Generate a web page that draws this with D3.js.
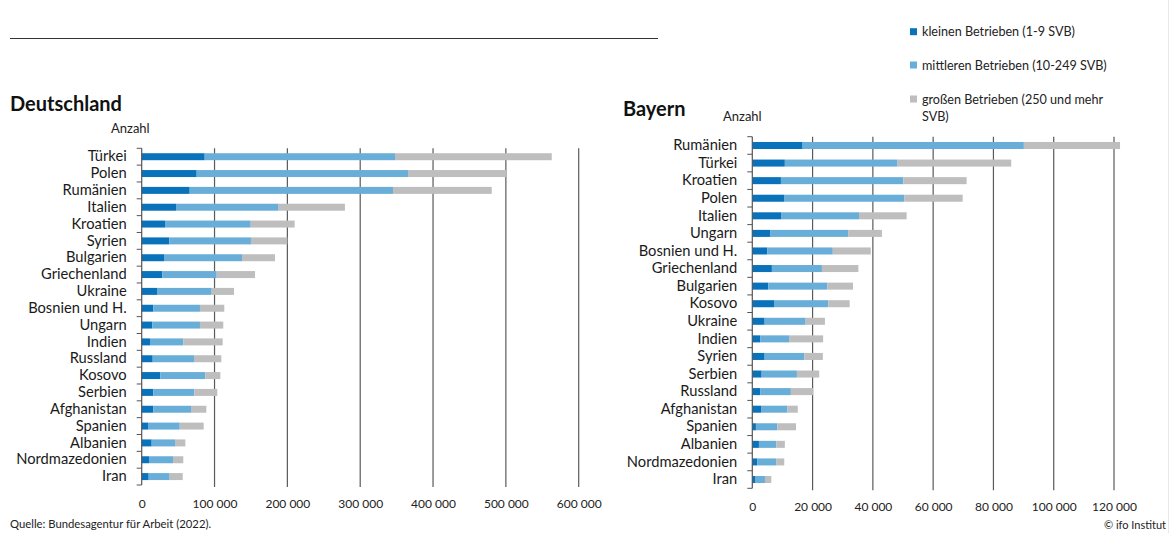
<!DOCTYPE html>
<html lang="de">
<head>
    <meta charset="UTF-8">
    <title>Beschäftigte nach Betriebsgröße</title>
    <script src="https://d3js.org/d3.v7.min.js"></script>
    <style>
        body { margin: 0; background-color: white; font-family: Lato, "Noto Sans", sans-serif; }
        svg { display: block; }
    </style>
</head>
<body>
    <svg id="chart"></svg>

    <script>
        const width = 1171;
        const height = 533;

        // Deutschland (segment values: small, medium, large firms)
        const deCountries = ["Türkei", "Polen", "Rumänien", "Italien", "Kroatien", "Syrien", "Bulgarien",
            "Griechenland", "Ukraine", "Bosnien und H.", "Ungarn", "Indien", "Russland", "Kosovo",
            "Serbien", "Afghanistan", "Spanien", "Albanien", "Nordmazedonien", "Iran"];
        const deSmall  = [86500, 75500, 65900, 47100, 32000, 37900, 30600, 28300, 21000, 16000,
            14600, 11400, 15100, 25500, 16000, 16000, 8700, 13700, 10000, 9600];
        const deMedium = [261300, 290100, 279100, 140900, 117700, 112100, 107100, 74700, 75100, 64000,
            65400, 45700, 56700, 61800, 56200, 51700, 43500, 32000, 33000, 28800];
        const deLarge  = [215200, 135000, 135600, 91000, 60300, 50000, 45300, 52600, 30600, 33400,
            32000, 54100, 37500, 20700, 31600, 21000, 32900, 14200, 14100, 17900];
        const deTicks = [0, 100000, 200000, 300000, 400000, 500000, 600000];

        // Bayern
        const byCountries = ["Rumänien", "Türkei", "Kroatien", "Polen", "Italien", "Ungarn", "Bosnien und H.",
            "Griechenland", "Bulgarien", "Kosovo", "Ukraine", "Indien", "Syrien", "Serbien", "Russland",
            "Afghanistan", "Spanien", "Albanien", "Nordmazedonien", "Iran"];
        const bySmall  = [16700, 10800, 9500, 10700, 9700, 5900, 5000, 6500, 5300, 7200,
            4100, 2600, 4100, 3100, 2600, 2900, 1200, 2200, 1600, 900];
        const byMedium = [73400, 37400, 40600, 39700, 25700, 25900, 21700, 16600, 19600, 18000,
            13600, 9600, 13200, 11700, 10200, 8700, 7100, 5800, 6300, 3300];
        const byLarge  = [31900, 37700, 21000, 19400, 15800, 11200, 12600, 12100, 8500, 7100,
            6400, 11300, 6100, 7400, 7400, 3500, 6200, 2800, 2700, 2100];
        const byTicks = [0, 20000, 40000, 60000, 80000, 100000, 120000];

        const seriesKeys = ["small", "medium", "large"];
        const seriesLabels = ["kleinen Betrieben (1-9 SVB)", "mittleren Betrieben (10-249 SVB)",
            "großen Betrieben (250 und mehr", "SVB)"];
        const colors = { small: "#0a72ba", medium: "#68aed9", large: "#bebebe" };

        const locale = d3.formatLocale({ decimal: ",", thousands: " ", grouping: [3], currency: ["", " €"] });
        const fmt = locale.format(",");

        const svg = d3.select("#chart")
            .attr("width", width)
            .attr("height", height);

        function drawPanel(opt) {
            const rows = opt.countries.map((c, i) => ({
                country: c, small: opt.small[i], medium: opt.medium[i], large: opt.large[i]
            }));

            const x = d3.scaleLinear().domain([0, opt.max]).range([opt.left, opt.right]);
            const y = d3.scaleBand().domain(opt.countries)
                .range([opt.top, opt.bottom])
                .paddingInner(opt.pad).paddingOuter(opt.pad / 2);

            const g = svg.append("g");

            // gridlines
            g.append("g").selectAll("line")
                .data(opt.ticks.filter(t => t > 0))
                .join("line")
                .attr("x1", d => x(d)).attr("x2", d => x(d))
                .attr("y1", opt.top).attr("y2", opt.bottom + 2)
                .attr("stroke", "#5a5a5a").attr("stroke-width", 1.2);

            // stacked bars
            const stack = d3.stack().keys(seriesKeys)(rows);
            g.append("g").selectAll("g")
                .data(stack)
                .join("g")
                .attr("fill", d => colors[d.key])
                .selectAll("rect")
                .data(d => d)
                .join("rect")
                .attr("x", d => x(d[0]))
                .attr("width", d => x(d[1]) - x(d[0]))
                .attr("y", d => y(d.data.country))
                .attr("height", y.bandwidth());

            // y axis line and category boundary ticks
            const step = y.step();
            g.append("line")
                .attr("x1", opt.left).attr("x2", opt.left)
                .attr("y1", opt.top).attr("y2", opt.bottom)
                .attr("stroke", "#555").attr("stroke-width", 1.2);
            g.append("g").selectAll("line")
                .data(d3.range(opt.countries.length + 1))
                .join("line")
                .attr("x1", opt.left - 5).attr("x2", opt.left)
                .attr("y1", i => opt.top + i * step).attr("y2", i => opt.top + i * step)
                .attr("stroke", "#555").attr("stroke-width", 1);

            // category labels
            const yAxis = g.append("g")
                .attr("transform", `translate(${opt.left},0)`)
                .call(d3.axisLeft(y).tickSize(0).tickPadding(15));
            yAxis.select(".domain").remove();
            yAxis.selectAll("text")
                .attr("font-family", "Lato, sans-serif")
                .attr("font-size", 14.7)
                .attr("fill", "#1a1a1a");

            // value axis labels
            const xAxis = g.append("g")
                .attr("transform", `translate(0,${opt.bottom})`)
                .call(d3.axisBottom(x).tickValues(opt.ticks).tickFormat(fmt).tickSize(0).tickPadding(14));
            xAxis.select(".domain").remove();
            xAxis.selectAll("text")
                .attr("font-family", "Lato, sans-serif")
                .attr("font-size", 12)
                .attr("fill", "#222");

            // title and unit
            svg.append("text")
                .attr("x", opt.titleX).attr("y", opt.titleY)
                .attr("font-family", "Lato, sans-serif")
                .attr("font-size", 20).attr("font-weight", "bold")
                .attr("fill", "#111")
                .text(opt.title);
            svg.append("text")
                .attr("x", opt.unitX).attr("y", opt.unitY)
                .attr("font-family", "Lato, sans-serif")
                .attr("font-size", 13)
                .attr("fill", "#222")
                .text("Anzahl");
        }

        drawPanel({
            countries: deCountries, small: deSmall, medium: deMedium, large: deLarge,
            ticks: deTicks, max: 600000,
            left: 141.7, right: 578.7, top: 148.3, bottom: 485, pad: 0.585,
            title: "Deutschland", titleX: 10, titleY: 111, unitX: 111, unitY: 133
        });

        drawPanel({
            countries: byCountries, small: bySmall, medium: byMedium, large: byLarge,
            ticks: byTicks, max: 120000,
            left: 752.3, right: 1114, top: 136.7, bottom: 488.3, pad: 0.6,
            title: "Bayern", titleX: 623, titleY: 116, unitX: 723, unitY: 121
        });

        // top rule
        svg.append("line")
            .attr("x1", 10).attr("x2", 658)
            .attr("y1", 38.5).attr("y2", 38.5)
            .attr("stroke", "#333").attr("stroke-width", 1);

        // right border
        svg.append("line")
            .attr("x1", 1168.5).attr("x2", 1168.5)
            .attr("y1", 0).attr("y2", 533)
            .attr("stroke", "#e8e8e8").attr("stroke-width", 1);

        // legend
        const legend = svg.append("g").attr("transform", "translate(910,0)");
        const legendY = [31.7, 65, 99];
        seriesKeys.forEach((k, i) => {
            legend.append("rect")
                .attr("x", 0).attr("y", legendY[i] - 3.5)
                .attr("width", 7).attr("height", 7)
                .attr("fill", colors[k]);
            legend.append("text")
                .attr("x", 12).attr("y", legendY[i] + 4.5)
                .attr("font-family", "Lato, sans-serif")
                .attr("font-size", 12.6)
                .attr("fill", "#222")
                .text(seriesLabels[i]);
        });
        legend.append("text")
            .attr("x", 12).attr("y", 120.5)
            .attr("font-family", "Lato, sans-serif")
            .attr("font-size", 12.6)
            .attr("fill", "#222")
            .text(seriesLabels[3]);

        // footer
        svg.append("text")
            .attr("x", 10).attr("y", 528)
            .attr("font-family", "Lato, sans-serif")
            .attr("font-size", 11.3)
            .attr("fill", "#222")
            .text("Quelle: Bundesagentur für Arbeit (2022).");
        svg.append("text")
            .attr("x", 1166).attr("y", 529)
            .attr("text-anchor", "end")
            .attr("font-family", "Lato, sans-serif")
            .attr("font-size", 11)
            .attr("fill", "#222")
            .text("© ifo Institut");
    </script>
</body>
</html>
